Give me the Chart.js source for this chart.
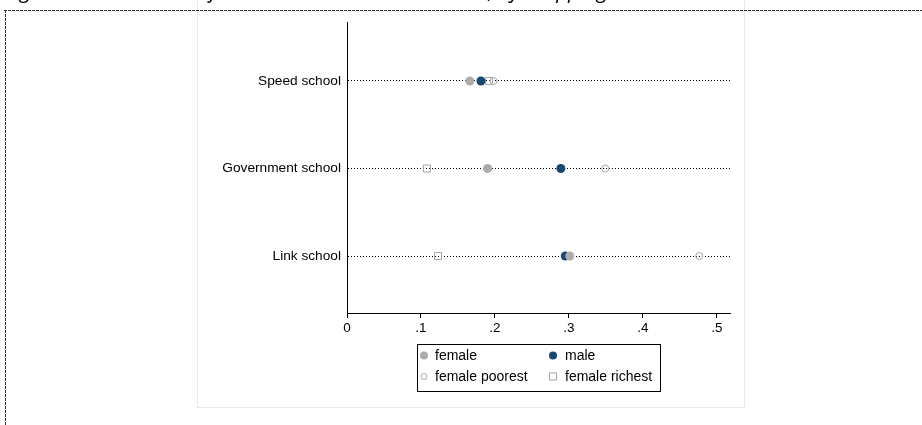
<!DOCTYPE html>
<html>
<head>
<meta charset="utf-8">
<script src="https://cdn.jsdelivr.net/npm/chart.js@4.4.1/dist/chart.umd.min.js"></script>
<style>
  html, body { margin: 0; padding: 0; background: #fff; overflow: hidden; }
  body { width: 922px; height: 425px; position: relative; }
  #title {
    position: absolute; left: 5px; top: -20px; z-index: 2;
    font: italic 21px "Open Sans", sans-serif; line-height: 21px;
    letter-spacing: -0.3px;
    white-space: nowrap; color: #000;
  }
  #panel {
    position: absolute; left: 197px; top: -1px; z-index: 1;
    width: 546px; height: 407px;
    border: 1px solid #e3eaea; background: #fff;
  }
  #panel canvas { display: block; }
  #frame { position: absolute; left: 0; top: 0; z-index: 3; pointer-events: none; }
</style>
</head>
<body>
<div id="panel"><canvas id="chart" width="546" height="407"></canvas></div>
<div id="title">Figure 5: Mean share of children in each school model, by dropping out status</div>
<svg id="frame" width="922" height="425">
  <line x1="4" y1="10.5" x2="922" y2="10.5" stroke="#333" stroke-width="1" stroke-dasharray="3,1"/>
  <line x1="5.5" y1="10" x2="5.5" y2="425" stroke="#333" stroke-width="1" stroke-dasharray="3,1"/>
</svg>
<script>
// School types, one row each (top to bottom)
const categories = ['Speed school', 'Government school', 'Link school'];

// Series values per school type
const female        = [0.166, 0.190, 0.301];
const male          = [0.181, 0.289, 0.295];
const femalePoorest = [0.198, 0.349, 0.476];
const femaleRichest = [0.192, 0.108, 0.123];

const seriesLabels = ['female', 'male', 'female poorest', 'female richest'];

// Horizontal axis ticks
const xTickValues = [0, 0.1, 0.2, 0.3, 0.4, 0.5];
const xTickLabels = ['0', '.1', '.2', '.3', '.4', '.5'];

const FONT = '"Liberation Sans", Arial, Helvetica, sans-serif';
const toPoints = vals => vals.map((v, i) => ({ x: v, y: i + 1 }));

// Boxed two-column legend under the plot
const boxLegend = {
  id: 'boxLegend',
  afterDraw(chart) {
    const { ctx, chartArea } = chart;
    const w = 243, h = 47;
    const left = Math.round((chartArea.left + chartArea.right) / 2 - w / 2 - 0.5);
    const top = chartArea.bottom + 31;
    ctx.save();
    ctx.strokeStyle = '#000';
    ctx.lineWidth = 1;
    ctx.strokeRect(left + 0.5, top + 0.5, w, h);
    ctx.font = '14px ' + FONT;
    ctx.fillStyle = '#000';
    ctx.textBaseline = 'middle';
    chart.data.datasets.forEach((ds, i) => {
      const col = i % 2, row = Math.floor(i / 2);
      const mx = left + 7 + col * 129;
      const my = top + 11.5 + row * 21;
      ctx.save();
      ctx.fillStyle = ds.backgroundColor;
      ctx.strokeStyle = ds.borderColor;
      ctx.lineWidth = ds.borderWidth;
      Chart.helpers.drawPoint(ctx, {
        pointStyle: ds.pointStyle,
        radius: ds.legendRadius,
        borderWidth: ds.borderWidth
      }, mx, my);
      ctx.restore();
      ctx.fillStyle = '#000';
      ctx.fillText(ds.label, mx + 11 + (col ? 1 : 0), my + 0.5);
    });
    ctx.restore();
  }
};

new Chart(document.getElementById('chart'), {
  type: 'scatter',
  data: {
    datasets: [
      {
        label: seriesLabels[0], data: toPoints(female),
        pointStyle: 'circle', pointRadius: 4.5, legendRadius: 4,
        backgroundColor: '#acacac', borderColor: '#acacac', borderWidth: 0
      },
      {
        label: seriesLabels[1], data: toPoints(male),
        pointStyle: 'circle', pointRadius: 4.5, legendRadius: 4,
        backgroundColor: '#1a476f', borderColor: '#1a476f', borderWidth: 0
      },
      {
        label: seriesLabels[2], data: toPoints(femalePoorest),
        pointStyle: 'circle', pointRadius: 3.5, legendRadius: 3,
        backgroundColor: 'rgba(0,0,0,0)', borderColor: '#a6a6a6', borderWidth: 1
      },
      {
        label: seriesLabels[3], data: toPoints(femaleRichest),
        pointStyle: 'rect', pointRadius: 5, legendRadius: 5,
        backgroundColor: 'rgba(0,0,0,0)', borderColor: '#a6a6a6', borderWidth: 1
      }
    ]
  },
  options: {
    responsive: false,
    animation: false,
    events: [],
    layout: { padding: { left: 0, right: 14, top: 22, bottom: 0 } },
    plugins: { legend: { display: false }, tooltip: { enabled: false } },
    scales: {
      x: {
        type: 'linear', min: 0, max: 0.5176,
        afterBuildTicks: s => { s.ticks = xTickValues.map(v => ({ value: v })); },
        afterFit: s => { s.height = 94; },
        ticks: {
          callback: (v, i) => xTickLabels[i],
          color: '#000', font: { family: FONT, size: 13.5 },
          padding: 2, maxRotation: 0, autoSkip: false
        },
        grid: {
          drawOnChartArea: false, drawTicks: true, tickLength: 5,
          tickColor: '#000', tickWidth: 1, color: '#000'
        },
        border: { display: true, color: '#000', width: 1 }
      },
      y: {
        type: 'linear', reverse: true, min: 0.326, max: 3.651,
        afterBuildTicks: s => { s.ticks = categories.map((c, i) => ({ value: i + 1 })); },
        afterFit: s => { s.width = 149; },
        ticks: {
          callback: v => categories[v - 1],
          color: '#000', font: { family: FONT, size: 13.7 },
          padding: 6, autoSkip: false
        },
        grid: { drawTicks: false, tickLength: 0, color: '#000', lineWidth: 1 },
        border: { display: true, color: '#000', width: 1, dash: [1, 2] }
      }
    }
  },
  plugins: [boxLegend]
});
</script>
</body>
</html>
